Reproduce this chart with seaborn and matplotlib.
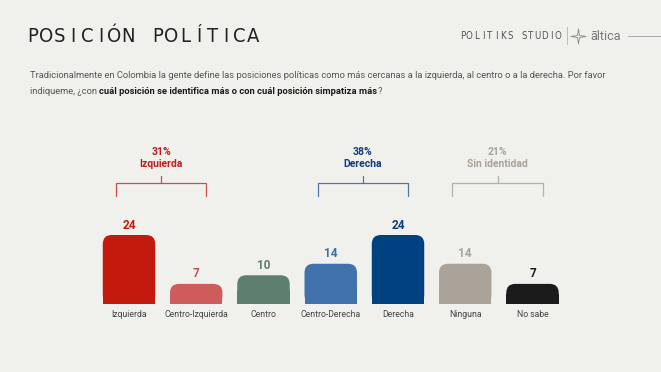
import numpy as np
import pandas as pd
import seaborn as sns
import matplotlib.pyplot as plt
from matplotlib.patches import FancyBboxPatch, Rectangle
from matplotlib.path import Path

# Data
categories = ["Izquierda", "Centro-Izquierda", "Centro", "Centro-Derecha", "Derecha", "Ninguna", "No sabe"]
values = [24, 7, 10, 14, 24, 14, 7]
bar_colors = ["#C41A0E", "#CF5C5C", "#5E7F6E", "#4272AB", "#00427F", "#A9A399", "#1B1B1B"]
label_colors = ["#C41A0E", "#C85050", "#5E7F6E", "#3E6EAA", "#0D3A80", "#A9A399", "#1B1B1B"]

group_names = ["Izquierda", "Derecha", "Sin identidad"]
group_pcts = ["31%", "38%", "21%"]
group_members = [(0, 1), (3, 4), (5, 6)]
group_colors = ["#C41A1A", "#103A7F", "#A9A399"]
bracket_colors = ["#C95050", "#5572A3", "#B5B0A8"]

df = pd.DataFrame({"cat": categories, "val": values})

BG = "#F0F0EC"
W, H = 661, 372
sns.set_theme(style="white")
plt.rcParams['font.family'] = ['Roboto', 'DejaVu Sans']

fig = plt.figure(figsize=(W / 100, H / 100), dpi=100, facecolor=BG)


def px(x, y):
    return x / W, 1 - y / H


# axes placed so bar centres sit where the reference has them
pitch = 67.25
left_px = 129 - pitch / 2
ymax = 70
ppu = 2.875  # pixels per value unit
ax_h = ymax * ppu
ax = fig.add_axes([left_px / W, 68 / H, 7 * pitch / W, ax_h / H])
ax.set_facecolor(BG)

sns.barplot(data=df, x="cat", y="val", hue="cat", palette=bar_colors,
            width=0.78, legend=False, ax=ax, saturation=1)
ax.set_xlim(-0.5, 6.5)
ax.set_ylim(0, ymax)

# rounded tops
aspect = (1 / ppu) / (1 / pitch)
r = 9 / pitch
for p, c in zip(list(ax.patches), bar_colors):
    x0, w, h = p.get_x(), p.get_width(), p.get_height()
    p.set_visible(False)
    ax.add_patch(FancyBboxPatch((x0, 0), w, h,
                                boxstyle=f"round,pad=0,rounding_size={r}",
                                mutation_aspect=aspect, fc=c, ec="none"))
    ax.add_patch(Rectangle((x0, 0), w, h / 2, fc=c, ec="none"))

for i, (v, c) in enumerate(zip(values, label_colors)):
    ax.annotate(str(v), (i, v), xytext=(0, 2.5), textcoords="offset points",
                ha="center", va="bottom", fontsize=8.5, fontweight="bold", color=c)

# group brackets
for (a, b), name, pct, gc, bc in zip(group_members, group_names, group_pcts, group_colors, bracket_colors):
    x1, x2 = a - 0.19, b + 0.15
    xm = (x1 + x2) / 2
    ax.plot([x1, x1, x2, x2], [37.6, 42.1, 42.1, 37.6], color=bc, lw=0.9, clip_on=False)
    ax.plot([xm, xm], [42.1, 44.4], color=bc, lw=0.9, clip_on=False)
    ax.text(xm, 53.0, pct, ha="center", va="center", fontsize=7.5, fontweight="bold", color=gc)
    ax.text(xm, 48.7, name, ha="center", va="center", fontsize=7.5, fontweight="bold", color=gc)

ax.set_xlabel("")
ax.set_ylabel("")
ax.set_yticks([])
ax.tick_params(axis="x", length=0, pad=4.5, labelsize=6.2, labelcolor="#444444")
sns.despine(ax=ax, left=True, bottom=True)

# title, letter by letter to get the wide tracking
title_kw = dict(family="DejaVu Sans", fontstretch="condensed", color="#222222")
for word, x0 in [("POSICIÓN", 32.5), ("POLÍTICA", 158)]:
    for k, ch in enumerate(word):
        fig.text(*px(x0 + 13.6 * k, 36), ch, ha="center", va="center", fontsize=14.5, **title_kw)

# logo
for k, ch in enumerate("POLITIKS STUDIO"):
    if ch != " ":
        fig.text(*px(462.5 + 6.8 * k, 36), ch, ha="center", va="center", fontsize=6.9,
                 family="DejaVu Sans", fontstretch="condensed", color="#555555")
fig.add_artist(plt.Line2D([567 / W, 567 / W], [1 - 27 / H, 1 - 44 / H], color="#BBBBBB", lw=0.7))
t = np.linspace(0, 2 * np.pi, 9)[:-1]
star = []
for j, a in enumerate(t):
    rr = 1.0 if j % 2 == 0 else 0.18
    star.append((rr * np.cos(a), rr * np.sin(a)))
star.append(star[0])
star_path = Path(star, closed=True)
fig.add_artist(plt.Line2D([578 / W], [1 - 36 / H], marker=star_path, markersize=11,
                          mfc="none", mec="#888888", mew=0.6, ls="none"))
fig.text(*px(590, 36), "āltica", ha="left", va="center", fontsize=9, color="#777777")
fig.add_artist(plt.Line2D([628 / W, 1], [1 - 36 / H, 1 - 36 / H], color="#AAAAAA", lw=0.7))

# subtitle with inline bold
sub_fs = 6.75
sub_col = "#555555"
fig.text(*px(30, 75), "Tradicionalmente en Colombia la gente define las posiciones políticas como más "
         "cercanas a la izquierda, al centro o a la derecha. Por favor",
         ha="left", va="center", fontsize=sub_fs, color=sub_col)
t1 = fig.text(*px(30, 92), "indiqueme, ¿con ", ha="left", va="center", fontsize=sub_fs, color=sub_col)
t2 = plt.annotate("cuál posición se identifica más o con cuál posición simpatiza más",
                  xy=(1, 0), xycoords=t1, ha="left", va="bottom", fontsize=sub_fs,
                  color="#1A1A1A", fontweight="bold", annotation_clip=False)
plt.annotate("?", xy=(1, 0), xycoords=t2, ha="left", va="bottom", fontsize=sub_fs,
             color=sub_col, annotation_clip=False)

fig.savefig("out.png", dpi=100, facecolor=BG)
